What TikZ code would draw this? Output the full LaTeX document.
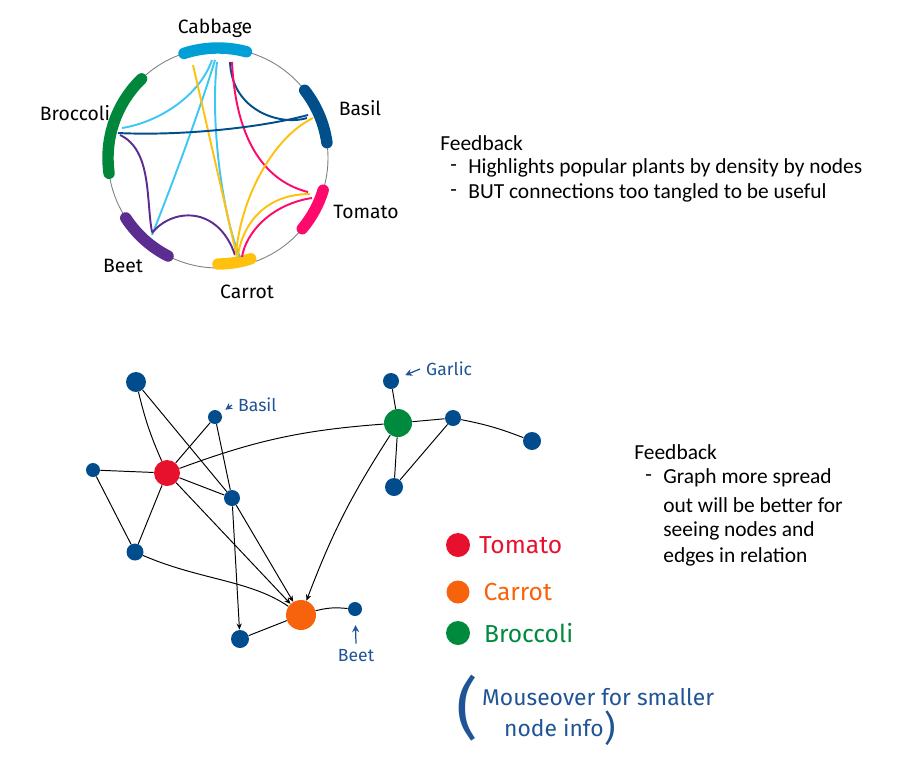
\documentclass[tikz,border=0pt]{standalone}
\usepackage{fontspec}
\setmainfont{Carlito}
\newfontfamily\hand{Fira Sans}
\usetikzlibrary{arrows.meta,positioning}

\definecolor{cabbagec}{HTML}{00A0D6}
\definecolor{cabbagel}{HTML}{3EC6F5}
\definecolor{basilc}{HTML}{004F8A}
\definecolor{tomatoc}{HTML}{FF0A6C}
\definecolor{carrotc}{HTML}{FFC10E}
\definecolor{beetc}{HTML}{5C2D91}
\definecolor{broccolic}{HTML}{00873C}
\definecolor{dotblue}{HTML}{004C8C}
\definecolor{dotred}{HTML}{E8112D}
\definecolor{dotorange}{HTML}{F7630C}
\definecolor{dotgreen}{HTML}{008A3E}
\definecolor{inkblue}{HTML}{1F5496}

\tikzset{
  bar/.style={line width=6.5pt, line cap=round, draw=#1},
  chord/.style={line width=1.1pt, draw=#1},
  dot/.style={circle, fill=dotblue, inner sep=0pt, minimum size=#1},
  edge/.style={line width=0.55pt},
  edgearr/.style={line width=0.55pt, -{Stealth[length=3.5pt,width=3pt]}},
  pointer/.style={inkblue, line width=0.7pt, -{Stealth[length=4pt,width=4pt]}},
  handlabel/.style={font=\hand\fontsize{11}{12}\selectfont},
  notelabel/.style={font=\hand\fontsize{10}{11}\selectfont, text=inkblue},
  legendlabel/.style={font=\hand\fontsize{14}{15}\selectfont, anchor=west},
  typed/.style={font=\fontsize{12.2}{14}\selectfont, anchor=west, inner sep=0pt}
}

\begin{document}
\begin{tikzpicture}[x=0.02cm, y=0.02cm]
  \useasboundingbox (0,-768) rectangle (912,0);

  % chord picture
  \coordinate (circ) at (218,-158);
  \draw[gray, line width=0.5pt] (circ) circle (110);

  \draw[bar=cabbagec] ([shift={(75:110)}]circ) arc (75:108:110);
  \draw[bar=basilc] ([shift={(8:110)}]circ) arc (8:38:110);
  \draw[bar=tomatoc] ([shift={(-17:110)}]circ) arc (-17:-40:110);
  \draw[bar=carrotc] ([shift={(-72:106)}]circ) arc (-72:-90:106);
  \draw[bar=beetc] ([shift={(213:110)}]circ) arc (213:243:110);
  \draw[bar=broccolic] ([shift={(134:110)}]circ) arc (134:188:110);

  \coordinate (cabA) at (212,-60);  \coordinate (broA) at (122,-128);
  \coordinate (cabB) at (215,-60);  \coordinate (beeA) at (152,-235);
  \coordinate (cabC) at (217,-62);  \coordinate (carA) at (240,-257);
  \coordinate (cabD) at (193,-65);  \coordinate (carB) at (237,-257);
  \coordinate (cabE) at (230,-62);  \coordinate (basA) at (307,-118);
  \coordinate (cabF) at (232,-62);  \coordinate (tomA) at (308,-192);
  \coordinate (broB) at (118,-133); \coordinate (basB) at (308,-115);
  \coordinate (broC) at (120,-135); \coordinate (beeB) at (152,-232);
  \coordinate (beeC) at (152,-233); \coordinate (carC) at (235,-255);
  \coordinate (basC) at (313,-118); \coordinate (carD) at (236,-255);
  \coordinate (tomB) at (310,-194); \coordinate (carE) at (238,-255);
  \coordinate (tomC) at (312,-198); \coordinate (carF) at (242,-257);

  \draw[chord=cabbagel] (cabA) .. controls (200,-95) and (160,-122) .. (broA);
  \draw[chord=cabbagel] (cabB) .. controls (200,-110) and (170,-190) .. (beeA);
  \draw[chord=cabbagel] (cabC) .. controls (210,-120) and (222,-215) .. (carA);
  \draw[chord=carrotc] (cabD) -- (carB);
  \draw[chord=basilc] (cabE) .. controls (232,-112) and (282,-126) .. (basA);
  \draw[chord=tomatoc] (cabF) .. controls (236,-145) and (268,-182) .. (tomA);
  \draw[chord=basilc] (broB) .. controls (180,-136) and (260,-128) .. (basB);
  \draw[chord=beetc] (broC) .. controls (152,-150) and (146,-200) .. (beeB);
  \draw[chord=beetc] (beeC) .. controls (172,-208) and (218,-205) .. (carC);
  \draw[chord=carrotc] (basC) .. controls (272,-138) and (240,-200) .. (carD);
  \draw[chord=carrotc] (tomB) .. controls (262,-194) and (242,-228) .. (carE);
  \draw[chord=tomatoc] (tomC) .. controls (272,-204) and (246,-232) .. (carF);

  \node[handlabel] (cabbagelab) at (215,-28) {Cabbage};
  \node[handlabel] (basillab) at (360,-108) {Basil};
  \node[handlabel] (tomatolab) at (366,-212) {Tomato};
  \node[handlabel] (carrotlab) at (247,-292) {Carrot};
  \node[handlabel] (beetlab) at (123,-266) {Beet};
  \node[handlabel] (broccolilab) at (75,-113) {Broccoli};

  \node[typed] (fb1) at (440,-143) {Feedback};
  \node[typed] (fb1d1) at (450,-168) {-};
  \node[typed] (fb1a) at (468,-168) {Highlights popular plants by density by nodes};
  \node[typed] (fb1d2) at (450,-193) {-};
  \node[typed] (fb1b) at (468,-193) {BUT connections too tangled to be useful};

  % network picture
  \node[dot=0.4cm] (top) at (136,-382) {};
  \node[dot=0.28cm] (basil) at (215,-417) {};
  \node[dot=0.32cm] (garlic) at (391,-381) {};
  \node[dot=0.56cm, fill=dotgreen] (broccoli) at (398,-423) {};
  \node[dot=0.32cm] (right) at (453,-418) {};
  \node[dot=0.36cm] (farright) at (532,-441) {};
  \node[dot=0.36cm] (below) at (394,-487) {};
  \node[dot=0.28cm] (left) at (93,-470) {};
  \node[dot=0.52cm, fill=dotred] (tomato) at (167,-473) {};
  \node[dot=0.32cm] (mid) at (232,-498) {};
  \node[dot=0.34cm] (lowleft) at (135,-552) {};
  \node[dot=0.6cm, fill=dotorange] (carrot) at (301,-615) {};
  \node[dot=0.28cm] (beet) at (355,-609) {};
  \node[dot=0.36cm] (bottom) at (240,-639) {};

  \draw[edge] (top) to[bend right=5] (tomato);
  \draw[edge] (top) -- (mid);
  \draw[edge] (basil) -- (tomato);
  \draw[edge] (basil) -- (mid);
  \draw[edge] (left) -- (tomato);
  \draw[edge] (left) -- (lowleft);
  \draw[edge] (tomato) -- (lowleft);
  \draw[edge] (tomato) -- (mid);
  \draw[edgearr] (tomato) -- (carrot);
  \draw[edge] (tomato) to[bend left=8] (broccoli);
  \draw[edgearr] (mid) -- (bottom);
  \draw[edgearr] (mid) -- (carrot);
  \draw[edge] (lowleft) .. controls (200,-580) and (250,-580) .. (carrot);
  \draw[edgearr] (broccoli) to[bend right=6] (carrot);
  \draw[edge] (garlic) -- (broccoli);
  \draw[edge] (broccoli) -- (right);
  \draw[edge] (right) to[bend left=5] (farright);
  \draw[edge] (broccoli) -- (below);
  \draw[edge] (below) -- (right);
  \draw[edge] (bottom) -- (carrot);
  \draw[edge] (carrot) to[bend left=10] (beet);

  \node[notelabel, anchor=west] (garliclab) at (420,-369) {Garlic};
  \node[notelabel, anchor=west] (basillab2) at (232,-405) {Basil};
  \node[notelabel] (beetlab2) at (356,-656) {Beet};
  \draw[pointer, shorten >=4pt] (garliclab.west) -- (garlic);
  \draw[pointer, shorten >=3pt] (basillab2.west) -- (basil);
  \draw[pointer, shorten >=5pt] (beetlab2.north) -- (beet);

  % legend
  \node[dot=0.48cm, fill=dotred] (legtomato) at (458,-545) {};
  \node[dot=0.46cm, fill=dotorange] (legcarrot) at (458,-592) {};
  \node[dot=0.48cm, fill=dotgreen] (legbroccoli) at (458,-633) {};
  \node[legendlabel, text=dotred, right=0.05cm of legtomato] (legtomatolab) {Tomato};
  \node[legendlabel, text=dotorange, right=0.15cm of legcarrot] (legcarrotlab) {Carrot};
  \node[legendlabel, text=dotgreen, right=0.15cm of legbroccoli] (legbroccolilab) {Broccoli};

  \node[font=\hand\fontsize{38}{38}\selectfont, text=inkblue] (lparen) at (467,-708) {(};
  \node[font=\hand\fontsize{13}{14}\selectfont, text=inkblue, anchor=west] (mouse1) at (476,-697) {Mouseover for smaller};
  \node[font=\hand\fontsize{13}{14}\selectfont, text=inkblue, anchor=west] (mouse2) at (498,-728) {node info};
  \node[font=\hand\fontsize{20}{20}\selectfont, text=inkblue, inner sep=0pt, right=-0.12cm of mouse2] (rparen) {)};

  \node[typed] (fb2) at (634,-452) {Feedback};
  \node[typed] (fb2d) at (645,-478) {-};
  \node[typed] (fb2a) at (663,-478) {Graph more spread};
  \node[typed] (fb2b) at (663,-505) {out will be better for};
  \node[typed] (fb2c) at (663,-531) {seeing nodes and};
  \node[typed] (fb2e) at (663,-557) {edges in relation};
\end{tikzpicture}
\end{document}
